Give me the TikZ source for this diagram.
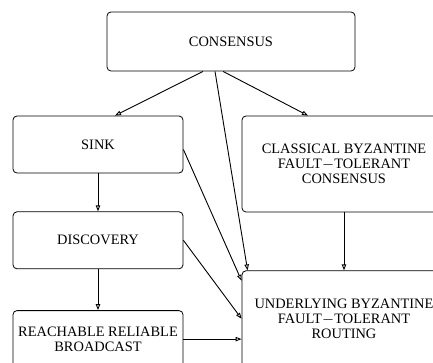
\documentclass[tikz,border=0pt]{standalone}
\usepackage{fontspec}
\setmainfont{Liberation Serif}
\usetikzlibrary{arrows.meta,positioning}

\begin{document}
\begin{tikzpicture}[
    x=1pt, y=1pt,
    every node/.style={font=\fontsize{7.2}{7.5}\selectfont},
    box/.style={draw, rounded corners=2pt, align=center, inner sep=0pt, minimum width=85pt, minimum height=28.5pt},
    widebox/.style={draw, rounded corners=2pt, align=center, inner sep=0pt, minimum width=102pt, minimum height=48pt},
    flow/.style={-{Triangle[open, length=3pt, width=2.2pt]}, line width=0.45pt}
]
\useasboundingbox (0,0) rectangle (216.5,-181.5);
\clip (0,0) rectangle (216.5,-181.5);
\node[draw, rounded corners=2pt, minimum width=124pt, minimum height=29.5pt, inner sep=0pt] (consensus) at (115.5,-20.75) {CONSENSUS};
\node[box] (sink) at (49,-72.25) {SINK};
\node[box, below=19pt of sink] (discovery) {DISCOVERY};
\node[box, below=20.5pt of discovery] (broadcast) {REACHABLE RELIABLE\\BROADCAST};
\node[widebox] (classical) at (172,-82) {CLASSICAL BYZANTINE\\FAULT$-$TOLERANT\\CONSENSUS};
\node[widebox, below=29pt of classical] (routing) {UNDERLYING BYZANTINE\\FAULT$-$TOLERANT\\ROUTING};
\draw[flow] ([xshift=-14pt]consensus.south) -- ([xshift=8.5pt]sink.north);
\draw[flow] ([xshift=-8pt]consensus.south) -- ([xshift=3pt]routing.north west);
\draw[flow] ([xshift=-4pt]consensus.south) -- ([xshift=-18pt]classical.north);
\draw[flow] (sink) -- (discovery);
\draw[flow] ([yshift=-2.5pt]sink.east) -- ([yshift=19pt]routing.west);
\draw[flow] (discovery) -- (broadcast);
\draw[flow] (discovery.east) -- (routing.west);
\draw[flow] (broadcast.east) -- (broadcast.east -| routing.west);
\draw[flow] (classical) -- (routing);
\end{tikzpicture}
\end{document}
